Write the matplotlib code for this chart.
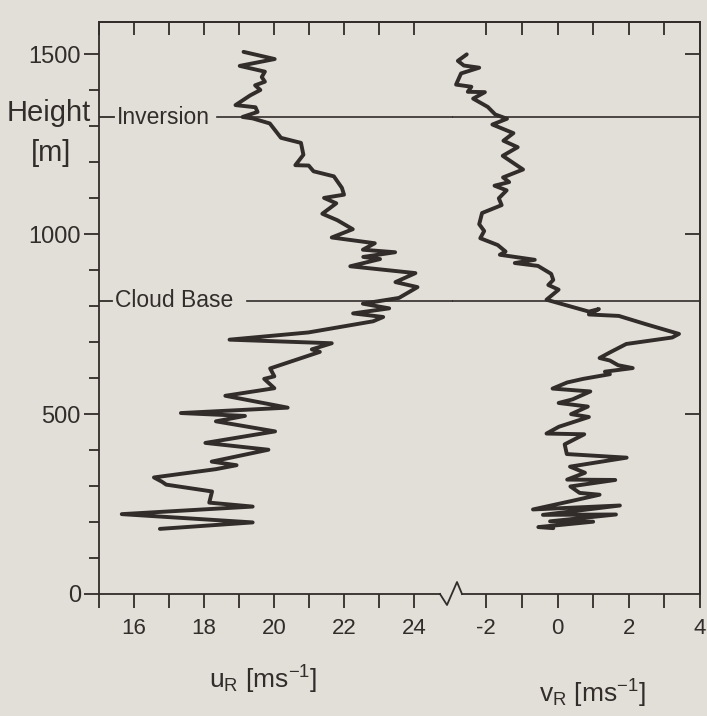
import matplotlib
matplotlib.use('Agg')
import matplotlib.pyplot as plt
import matplotlib.transforms as mtransforms
from matplotlib.lines import Line2D
import numpy as np

plt.rcParams['font.family'] = ['Liberation Sans', 'DejaVu Sans']
plt.rcParams['mathtext.fontset'] = 'custom'
plt.rcParams['mathtext.rm'] = 'Liberation Sans'
plt.rcParams['mathtext.it'] = 'Liberation Sans:italic'
plt.rcParams['axes.unicode_minus'] = False

# ---- data ----
height_u = [1507, 1487, 1468, 1452, 1437, 1424, 1414, 1401, 1386, 1359, 1353, 1340, 1326, 1322,
            1308, 1268, 1254, 1221, 1192, 1191, 1175, 1161, 1129, 1110, 1101, 1086, 1057, 1039,
            1014, 991, 975, 957, 950, 937, 931, 911, 892, 867, 853, 823, 807, 794, 780, 770, 758,
            727, 707, 697, 680, 673, 627, 605, 598, 572, 551, 518, 503, 495, 480, 452, 420, 401,
            368, 358, 347, 324, 312, 304, 285, 254, 243, 222, 199, 181]
u_R = [19.13, 20.02, 19.02, 19.74, 19.65, 19.74, 19.46, 19.61, 19.32, 18.90, 19.47, 19.53, 19.10,
       19.39, 19.88, 20.20, 20.77, 20.84, 20.61, 20.99, 21.13, 21.71, 21.94, 22.00, 21.43, 21.78,
       21.38, 21.81, 22.25, 21.65, 22.88, 22.54, 23.46, 22.55, 23.03, 22.18, 24.04, 23.47, 24.10,
       23.57, 22.54, 23.29, 22.26, 23.12, 22.83, 20.98, 18.73, 21.65, 21.08, 21.31, 19.89, 20.01,
       19.72, 20.01, 18.61, 20.39, 17.34, 19.17, 18.34, 20.03, 18.04, 19.84, 18.22, 18.93, 18.34,
       16.57, 16.80, 16.92, 18.23, 18.15, 19.39, 15.65, 19.39, 16.74]

height_v = [1500, 1482, 1469, 1463, 1447, 1416, 1410, 1396, 1395, 1377, 1354, 1333, 1321, 1305,
            1281, 1260, 1242, 1218, 1180, 1158, 1145, 1135, 1122, 1100, 1081, 1059, 1028, 1009,
            989, 970, 952, 943, 929, 920, 912, 890, 873, 859, 846, 818, 785, 792, 777, 773, 750,
            723, 713, 695, 671, 656, 649, 636, 628, 618, 611, 598, 588, 571, 563, 541, 531, 521,
            500, 492, 465, 446, 444, 416, 389, 379, 354, 337, 318, 317, 299, 281, 276, 258, 235,
            246, 220, 221, 202, 201, 186, 183]
v_R = [-2.55, -2.80, -2.63, -2.20, -2.71, -2.85, -2.42, -2.52, -2.04, -2.37, -1.96, -1.75, -1.42,
       -1.83, -1.24, -1.52, -1.12, -1.54, -0.97, -1.53, -1.36, -1.77, -1.43, -1.65, -1.57, -2.12,
       -2.20, -2.06, -2.17, -1.68, -1.46, -1.62, -0.64, -1.20, -0.55, -0.18, -0.12, -0.26, 0.03,
       -0.31, 0.88, 1.16, 0.88, 1.72, 2.48, 3.41, 3.22, 1.93, 1.46, 1.18, 1.47, 1.70, 2.11, 1.33,
       1.47, 0.72, 0.27, -0.14, 0.92, 0.42, 0.03, 0.85, 0.38, 0.88, 0.04, -0.31, 0.75, 0.20, 0.26,
       1.94, 0.35, 0.77, 0.27, 1.62, 0.36, 0.62, 1.18, 0.37, -0.69, 1.75, -0.41, 1.64, -0.21, 1.00,
       -0.54, -0.12]

inversion_height = 1325
cloud_base_height = 815
height_ticks = [0, 500, 1000, 1500]
height_labels = ['0', '500', '1000', '1500']
u_ticks = [16, 18, 20, 22, 24]
v_ticks = [-2, 0, 2, 4]

# ---- layout ----
W, H = 707, 716
paper = '#e1dfd8'
ink = '#322c2a'

fig = plt.figure(figsize=(W / 100, H / 100), dpi=100)
fig.patch.set_facecolor(paper)


def box(x0, y0, x1, y1):
    return [x0 / W, 1 - y1 / H, (x1 - x0) / W, (y1 - y0) / H]


left, split, right = 99, 452.5, 700
top, bottom = 22, 594
ax1 = fig.add_axes(box(left, top, split, bottom))
ax2 = fig.add_axes(box(split, top, right, bottom))
for ax in (ax1, ax2):
    ax.set_facecolor('none')
    ax.set_ylim(0, 1590)
    for sp in ax.spines.values():
        sp.set_color(ink)
        sp.set_linewidth(1.3)

ax1.set_xlim(15, 25.1)
ax2.set_xlim(-2.95, 4.0)
ax1.spines['right'].set_visible(False)
ax2.spines['left'].set_visible(False)
ax1.spines['bottom'].set_bounds(15, 15 + (440 - left) / 35.0)
ax2.spines['bottom'].set_bounds(-2.95 + (462 - split) / 35.7, 4.0)

# y axis (left)
ax1.set_yticks(height_ticks)
ax1.set_yticklabels(height_labels)
ax1.set_yticks(np.arange(0, 1600, 100), minor=True)
ax1.tick_params(axis='y', which='major', direction='out', length=11, width=1.3,
                labelsize=17, pad=2, colors=ink, right=False)
ax1.tick_params(axis='y', which='minor', direction='out', length=7, width=1.3,
                colors=ink, right=False)
ax2.tick_params(axis='y', which='both', left=False, right=False, labelleft=False)

# x axes (bottom)
ax1.set_xticks(u_ticks)
ax1.set_xticks([15, 17, 19, 21, 23], minor=True)
ax2.set_xticks(v_ticks)
ax2.set_xticks([-1, 1, 3], minor=True)
for ax in (ax1, ax2):
    ax.tick_params(axis='x', which='both', direction='out', length=10, width=1.3,
                   labelsize=16, pad=7, colors=ink, top=False)

# top ticks (inward)
s1 = ax1.secondary_xaxis('top')
s1.set_xticks(list(range(15, 25)))
s1.tick_params(direction='in', length=9, width=1.3, labeltop=False, colors=ink)
s1.spines['top'].set_color(ink)
s1.spines['top'].set_linewidth(1.3)
s2 = ax2.secondary_xaxis('top')
s2.set_xticks(list(range(-2, 4)))
s2.tick_params(direction='in', length=9, width=1.3, labeltop=False, colors=ink)
s2.spines['top'].set_color(ink)
s2.spines['top'].set_linewidth(1.3)
# right ticks (inward)
s3 = ax2.secondary_yaxis('right')
s3.set_yticks(height_ticks[1:])
s3.tick_params(direction='in', length=11, width=1.3, labelright=False, colors=ink)
s3.spines['right'].set_color(ink)
s3.spines['right'].set_linewidth(1.3)

# profiles
ax1.plot(u_R, height_u, color=ink, lw=2.8, solid_joinstyle='round', solid_capstyle='round')
ax2.plot(v_R, height_v, color=ink, lw=2.8, solid_joinstyle='round', solid_capstyle='round')

# inversion / cloud base markers
w1 = split - left
tr = mtransforms.blended_transform_factory(ax1.transAxes, ax1.transData)
ax1.plot([0, 15 / w1], [inversion_height] * 2, transform=tr, color=ink, lw=1.3)
ax1.text(18 / w1, inversion_height, 'Inversion', transform=tr, ha='left', va='center',
         fontsize=16.5, color=ink)
ax1.plot([118 / w1, 1], [inversion_height] * 2, transform=tr, color=ink, lw=1.2)
ax2.axhline(inversion_height, color=ink, lw=1.2)

ax1.plot([0, 13 / w1], [cloud_base_height] * 2, transform=tr, color=ink, lw=1.3)
ax1.text(16 / w1, cloud_base_height, 'Cloud Base', transform=tr, ha='left', va='center',
         fontsize=16.5, color=ink)
ax1.plot([148 / w1, 1], [cloud_base_height] * 2, transform=tr, color=ink, lw=1.2)
ax2.axhline(cloud_base_height, color=ink, lw=1.2)

# axis break zigzag on the bottom axis
zx = [440, 447, 457, 462]
zy = [bottom, bottom + 11, bottom - 12, bottom]
fig.add_artist(Line2D([x / W for x in zx], [1 - y / H for y in zy],
                      transform=fig.transFigure, color=ink, lw=1.3))

# labels
fig.text(7 / W, 1 - 113 / H, 'Height', ha='left', va='center', fontsize=21, color=ink)
fig.text(51 / W, 1 - 153 / H, '[m]', ha='center', va='center', fontsize=21, color=ink)
fig.text(263 / W, 1 - 680 / H, r'u$_\mathrm{R}$ [ms$^{-1}$]', ha='center', va='center',
         fontsize=19, color=ink)
fig.text(592 / W, 1 - 694 / H, r'v$_\mathrm{R}$ [ms$^{-1}$]', ha='center', va='center',
         fontsize=19, color=ink)

fig.savefig('out.png', dpi=100, facecolor=paper)
